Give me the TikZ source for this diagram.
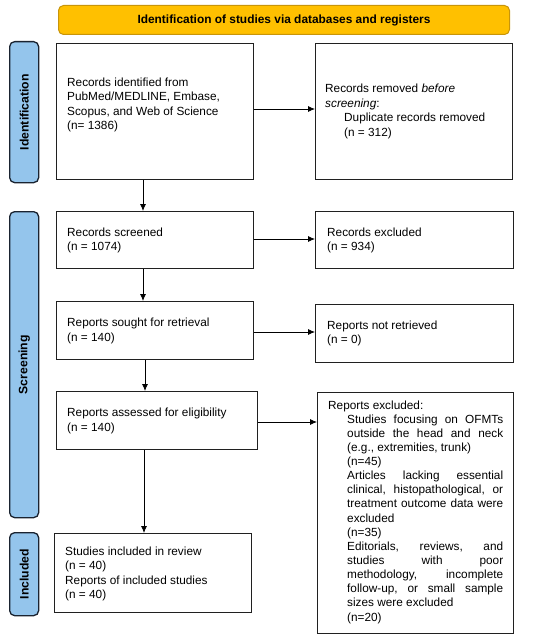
\documentclass[tikz,border=0pt]{standalone}
\usepackage{fontspec}
\setmainfont{Liberation Sans}
\usetikzlibrary{arrows.meta}
\definecolor{bannerfill}{HTML}{FFC000}
\definecolor{bannerdraw}{HTML}{C8950A}
\definecolor{sidefill}{HTML}{94C5EC}
\definecolor{sidedraw}{HTML}{1A2330}
\definecolor{boxdraw}{HTML}{202020}
\tikzset{
  flowbox/.style={draw=boxdraw, line width=1.3pt, fill=white, inner sep=0pt, anchor=north west},
  boxtext/.style={align=left, inner sep=0pt, anchor=west, font=\fontsize{11.8}{14.6}\selectfont},
  sidelabel/.style={draw=sidedraw, line width=1.3pt, fill=sidefill, rounded corners=5pt,
    anchor=north west, inner sep=0pt},
  sidetext/.style={rotate=90, font=\bfseries\fontsize{12.2}{14}\selectfont},
  banner/.style={draw=bannerdraw, line width=1pt, fill=bannerfill, rounded corners=5pt,
    font=\bfseries\fontsize{11.9}{14}\selectfont, anchor=north west, inner sep=0pt},
  flowarrow/.style={-{Latex[length=7pt,width=6pt]}, line width=0.8pt, black},
}
\newcommand{\jl}[1]{\hspace*{19pt}\makebox[156pt][l]{#1}}
\begin{document}
\begin{tikzpicture}[x=1pt,y=-1pt]
\useasboundingbox (0,0) rectangle (550,639);
% banner
\node[banner, minimum width=451pt, minimum height=29pt] (ban) at (58,5) {Identification of studies via databases and registers};
% side labels
\node[sidelabel, minimum width=29pt, minimum height=141pt] (sid) at (9,41) {};
\node[sidetext] (sidt) at (sid.center) {Identification};
\node[sidelabel, minimum width=29pt, minimum height=306pt] (sscr) at (9,211) {};
\node[sidetext] (sscrt) at (sscr.center) {Screening};
\node[sidelabel, minimum width=29pt, minimum height=83pt] (sinc) at (9,532) {};
\node[sidetext] (sinct) at (sinc.center) {Included};
% left column boxes
\node[flowbox, minimum width=197pt, minimum height=136pt] (ident) at (56,43) {};
\node[flowbox, minimum width=197pt, minimum height=57pt] (screen) at (56,211) {};
\node[flowbox, minimum width=197pt, minimum height=58pt] (sought) at (56,301) {};
\node[flowbox, minimum width=201pt, minimum height=58pt] (assess) at (56,391) {};
\node[flowbox, minimum width=197pt, minimum height=79pt] (incl) at (54,533) {};
% right column boxes
\node[flowbox, minimum width=197pt, minimum height=136pt] (removed) at (315,43) {};
\node[flowbox, minimum width=198pt, minimum height=57pt] (excl) at (315,211) {};
\node[flowbox, minimum width=198pt, minimum height=58pt] (notret) at (315,304) {};
\node[flowbox, minimum width=196pt, minimum height=241pt] (repexcl) at (317,392) {};
% texts
\node[boxtext] (identt) at (67,105) {Records identified from\\PubMed/MEDLINE, Embase,\\Scopus, and Web of Science\\(n= 1386)};
\node[boxtext] (screent) at (67,240.5) {Records screened\\(n = 1074)};
\node[boxtext] (soughtt) at (67,331) {Reports sought for retrieval\\(n = 140)};
\node[boxtext] (assesst) at (67,421) {Reports assessed for eligibility\\(n = 140)};
\node[boxtext] (inclt) at (65,574) {Studies included in review\\(n = 40)\\Reports of included studies\\(n = 40)};
\node[boxtext] (removedt) at (325,111.5) {Records removed \textit{before}\\\textit{screening}:\\\hspace*{19pt}Duplicate records removed\\\hspace*{19pt}(n = 312)};
\node[boxtext] (exclt) at (327,240.5) {Records excluded\\(n = 934)};
\node[boxtext] (notrett) at (327,333.5) {Reports not retrieved\\(n = 0)};
\node[boxtext, font=\fontsize{11.8}{14.13}\selectfont] (repexclt) at (328,512)
  {Reports excluded:\\
  \jl{Studies\hfill focusing\hfill on\hfill OFMTs}\\
  \jl{outside\hfill the\hfill head\hfill and\hfill neck}\\
  \jl{(e.g., extremities, trunk)}\\
  \jl{(n=45)}\\
  \jl{Articles\hfill lacking\hfill essential}\\
  \jl{clinical,\hfill histopathological,\hfill or}\\
  \jl{treatment\hfill outcome\hfill data\hfill were}\\
  \jl{excluded}\\
  \jl{(n=35)}\\
  \jl{Editorials,\hfill reviews,\hfill and}\\
  \jl{studies\hfill with\hfill poor}\\
  \jl{methodology,\hfill incomplete}\\
  \jl{follow-up,\hfill or\hfill small\hfill sample}\\
  \jl{sizes were excluded}\\
  \jl{(n=20)}};
% connectors
\draw[flowarrow] (ident.east |- 0,109) -- (removed.west |- 0,109);
\draw[flowarrow] (screen.east |- 0,239) -- (excl.west |- 0,239);
\draw[flowarrow] (sought.east |- 0,332) -- (notret.west |- 0,332);
\draw[flowarrow] (assess.east |- 0,422) -- (repexcl.west |- 0,422);
\draw[flowarrow] (143,0 |- ident.south) -- (143,0 |- screen.north);
\draw[flowarrow] (143,0 |- screen.south) -- (143,0 |- sought.north);
\draw[flowarrow] (145,0 |- sought.south) -- (145,0 |- assess.north);
\draw[flowarrow] (144,0 |- assess.south) -- (144,0 |- incl.north);
\end{tikzpicture}
\end{document}
